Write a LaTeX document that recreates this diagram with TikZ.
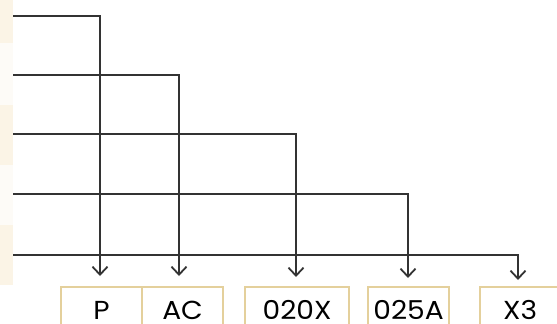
\documentclass[tikz,border=0pt]{standalone}
\usepackage{fontspec}
\setmainfont{Poppins}
\usetikzlibrary{arrows.meta}
\definecolor{bandcream}{HTML}{FBF4E6}
\definecolor{bandpale}{HTML}{FDFBF7}
\definecolor{boxtan}{HTML}{E4D09C}
\definecolor{wiregray}{HTML}{333333}
\tikzset{
	codebox/.style={draw=boxtan, line width=2.2pt, fill=white, anchor=north west,
		inner xsep=0pt, inner ysep=13pt, text height=19pt, text depth=0pt,
		font=\fontsize{26}{26}\selectfont, text=black},
	wire/.style={draw=wiregray, line width=1.6pt, ->}
}
\newcommand{\codebox}[4]{
	\node [codebox, minimum width=#3pt] (#1) at (#2,286) {\scalebox{1.08}[1]{#4}};}

\begin{document}
\begin{tikzpicture}[x=1pt,y=-1pt,>={Straight Barb[length=8pt,width=15pt,line width=1.8pt]}]
	\useasboundingbox (0,0) rectangle (557,324);
	\clip (0,0) rectangle (557,324);
	% left bands
	\fill [bandcream] (0,0) rectangle (13,43);
	\fill [bandpale] (0,43) rectangle (13,105);
	\fill [bandcream] (0,105) rectangle (13,165);
	\fill [bandpale] (0,165) rectangle (13,225);
	\fill [bandcream] (0,225) rectangle (13,285);
	% code boxes
	\codebox{p}{60}{81}{P}
	\codebox{ac}{141}{81}{AC}
	\codebox{zx}{244}{104}{020X}
	\codebox{za}{367}{81}{025A}
	\codebox{xt}{479}{80}{X3}
	% rows
	\coordinate (r1) at (13,16);
	\coordinate (r2) at (13,75);
	\coordinate (r3) at (13,134);
	\coordinate (r4) at (13,194);
	\coordinate (r5) at (13,255);
	\coordinate (t1) at (100,276);
	\coordinate (t2) at (179,276);
	\coordinate (t3) at (296,277);
	\coordinate (t4) at (408,278);
	\coordinate (t5) at (518,280);
	\draw [wire] (r1) -| (t1);
	\draw [wire] (r2) -| (t2);
	\draw [wire] (r3) -| (t3);
	\draw [wire] (r4) -| (t4);
	\draw [wire] (r5) -| (t5);
\end{tikzpicture}
\end{document}
